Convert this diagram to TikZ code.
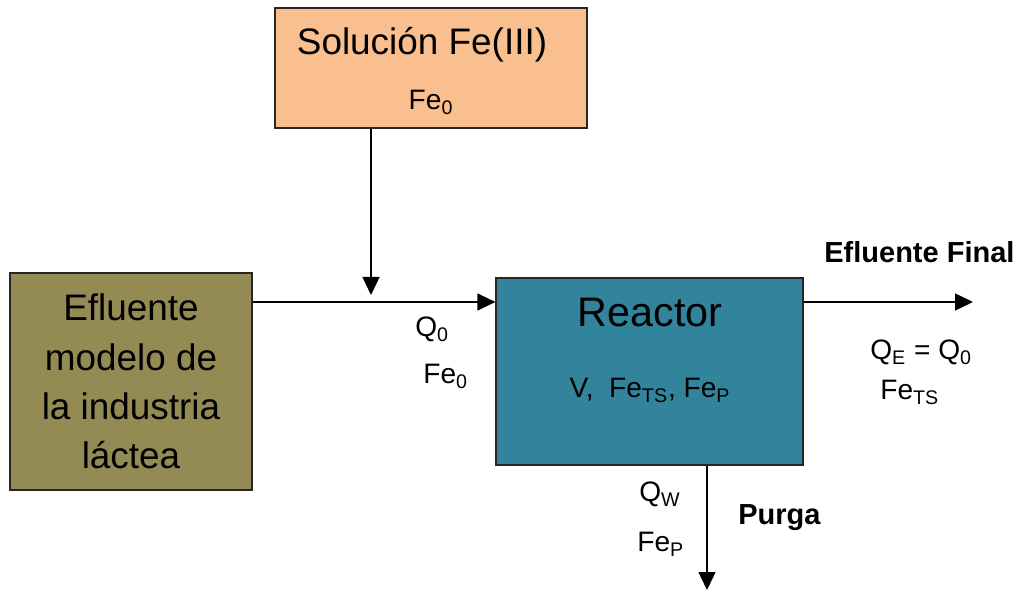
\documentclass[tikz,border=0pt]{standalone}
\usepackage{fontspec}
\setmainfont{Liberation Sans}
\usetikzlibrary{arrows.meta}
\definecolor{solfill}{HTML}{F9BF8F}
\definecolor{eflfill}{HTML}{948A54}
\definecolor{reacfill}{HTML}{31849B}

\begin{document}
\begin{tikzpicture}[>={Triangle[length=0.36cm,width=0.34cm]},
  box/.style={draw=black!85,line width=0.7pt,inner sep=0pt},
  lab/.style={inner sep=0pt,anchor=base west,font=\fontsize{16}{19}\selectfont},
  flow/.style={->,line width=0.8pt}]
  \useasboundingbox (0,0) rectangle (20.36,11.84);
  \node[box,fill=solfill,minimum width=6.24cm,minimum height=2.40cm] (sol) at (8.62,10.48) {};
  \node[box,fill=eflfill,minimum width=4.84cm,minimum height=4.34cm,align=center,
    font=\fontsize{21}{28}\selectfont] (efl) at (2.62,4.21) {Efluente\\modelo de\\la industria\\láctea};
  \node[box,fill=reacfill,minimum width=6.14cm,minimum height=3.74cm] (reac) at (12.99,4.41) {};
  \node[lab,anchor=base,font=\fontsize{21}{25}\selectfont] (soltit) at (8.44,10.74) {Solución Fe(III)};
  \node[lab,anchor=base] (solfe) at (8.62,9.64) {Fe\textsubscript{0}};
  \node[lab,anchor=base,font=\fontsize{23.5}{27}\selectfont] (reactit) at (13.00,5.30) {Reactor};
  \node[lab,anchor=base] (reacvar) at (13.00,3.88) {V,\ \ Fe\textsubscript{TS}, Fe\textsubscript{P}};
  % corrientes
  \coordinate (mix) at (7.42,5.80);
  \coordinate (out) at (19.46,5.80);
  \coordinate (purge) at (14.14,0.04);
  \draw[flow] (efl.east |- mix) -- (reac.west |- mix);
  \draw[flow,shorten >=0.14cm] (sol.south -| mix) -- (mix);
  \draw[flow] (reac.east |- mix) -- (out);
  \draw[flow] (reac.south -| purge) -- (purge);
  \node[lab] (inq) at (8.30,5.10) {Q\textsubscript{0}};
  \node[lab] (infe) at (8.46,4.16) {Fe\textsubscript{0}};
  \node[lab,font=\fontsize{16.5}{19}\selectfont\bfseries] (outtit) at (16.48,6.58) {Efluente Final};
  \node[lab] (outq) at (17.40,4.64) {Q\textsubscript{E} = Q\textsubscript{0}};
  \node[lab] (outfe) at (17.60,3.84) {Fe\textsubscript{TS}};
  \node[lab] (purq) at (12.78,1.80) {Q\textsubscript{W}};
  \node[lab] (purfe) at (12.74,0.80) {Fe\textsubscript{P}};
  \node[lab,font=\fontsize{16.5}{19}\selectfont\bfseries] (purtit) at (14.76,1.34) {Purga};
\end{tikzpicture}
\end{document}
